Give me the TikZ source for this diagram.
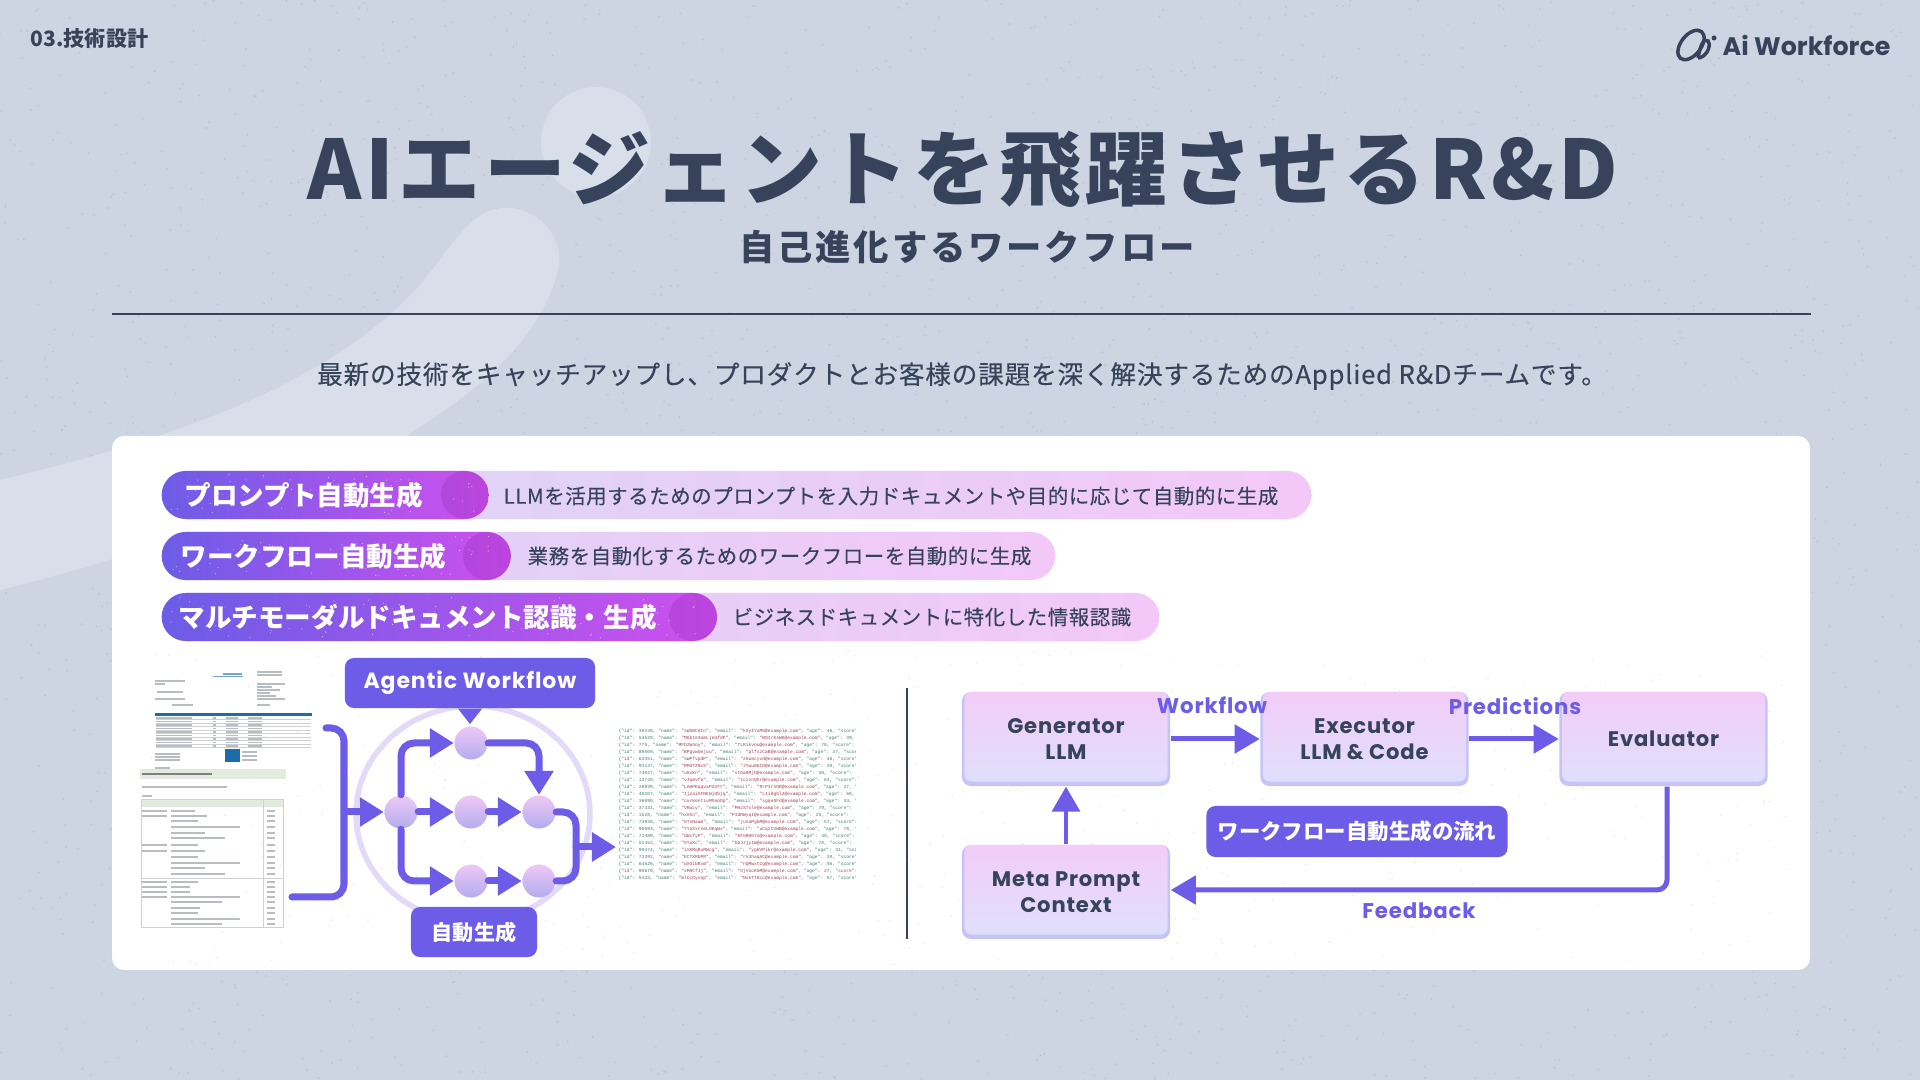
\documentclass[tikz,border=0pt]{standalone}
\usepackage{fontspec}
\setmainfont{Noto Sans CJK JP}
\newfontfamily\titlefont[LetterSpace=5]{Noto Sans CJK JP}
\newfontfamily\subfont[LetterSpace=8]{Noto Sans CJK JP}
\newfontfamily\descfont[LetterSpace=3,FakeBold=0.2]{Noto Sans CJK JP}
\newfontfamily\latinfont[LetterSpace=4]{Poppins}
\newfontfamily\logofont{Poppins}
\newfontfamily\jsonfont{Liberation Mono}
\usetikzlibrary{shapes.geometric, positioning, arrows.meta, calc}
\definecolor{pagebg}{HTML}{CDD5E3}
\definecolor{grain}{HTML}{B8C2D5}
\definecolor{swoosh}{HTML}{DCE1EC}
\definecolor{inkdark}{HTML}{36435A}
\definecolor{wfpurple}{HTML}{6C5CE7}
\definecolor{pillmag}{HTML}{CE50EE}
\definecolor{barleft}{HTML}{DAD6F6}
\definecolor{barright}{HTML}{F3C8F8}
\definecolor{boxtop}{HTML}{F3CCF8}
\definecolor{boxbot}{HTML}{DFE0FB}
\definecolor{boxrim}{HTML}{C4C4F6}
\definecolor{blobtop}{HTML}{EFC8F5}
\definecolor{blobbot}{HTML}{B2ACF0}
\definecolor{ringcol}{HTML}{E2DAF8}
\definecolor{jsonkey}{HTML}{3F7F70}
\definecolor{jsonval}{HTML}{A03F50}
\definecolor{invblue}{HTML}{1B6CA8}
\definecolor{invgreen}{HTML}{E3EADF}
\definecolor{invgray}{HTML}{B9BCC0}

\begin{document}
\begin{tikzpicture}[
  x=0.01cm, y=-0.01cm,
  >=Latex,
  %% Text styles
  headtxt/.style={text=inkdark, inner sep=0pt},
  pilltxt/.style={text=white, inner sep=0pt, anchor=west,
    font=\bfseries\fontsize{7.55}{10}\selectfont},
  desctxt/.style={text=inkdark, inner sep=0pt, anchor=west,
    font=\descfont\fontsize{5.8}{7}\selectfont},
  edgelbl/.style={text=wfpurple, inner sep=0pt,
    font=\latinfont\bfseries\fontsize{6.05}{7}\selectfont},
  %% Bars
  lightbar/.style={anchor=west, inner sep=0pt, minimum height=0.48cm,
    rounded corners=0.24cm, left color=barleft, right color=barright},
  darkpill/.style={anchor=west, inner sep=0pt, minimum height=0.48cm,
    rounded corners=0.24cm, left color=wfpurple, right color=pillmag},
  pillcap/.style={circle, inner sep=0pt, minimum size=0.48cm, anchor=east,
    fill=violet!70!wfpurple, fill opacity=0.2},
  %% Diagram nodes
  blob/.style={circle, inner sep=0pt, minimum size=0.33cm,
    top color=blobtop, bottom color=blobbot},
  tagbox/.style={inner sep=0pt, fill=wfpurple, rounded corners=0.09cm,
    text=white, font=\bfseries},
  stepbox/.style={inner sep=0pt, minimum width=2.08cm, minimum height=0.94cm,
    align=center, rounded corners=0.09cm, fill=boxrim, text=inkdark,
    font=\latinfont\bfseries\fontsize{6}{7.4}\selectfont,
    path picture={
      \shade[top color=boxtop, bottom color=boxbot, rounded corners=0.07cm]
        ([xshift=0.025cm]path picture bounding box.north west) rectangle
        ([xshift=-0.025cm, yshift=0.045cm]path picture bounding box.south east);}},
  %% Connectors
  flow/.style={draw=wfpurple, line width=0.07cm, line cap=round,
    rounded corners=0.13cm},
  arr/.style={flow, -{Triangle[length=0.24cm, width=0.28cm]}},
  arrthin/.style={draw=wfpurple, line width=0.05cm, rounded corners=0.1cm,
    -{Triangle[length=0.25cm, width=0.28cm]}},
  %% Thumbnails
  inkbar/.style={draw=invgray, line width=0.022cm},
  tablerule/.style={draw=invgray!70, line width=0.008cm},
  jsonline/.style={inner sep=0pt, anchor=west,
    font=\jsonfont\fontsize{1.31}{1.5}\selectfont},
]

%% =========================================================
%% PAGE — background and decoration
%% =========================================================
\useasboundingbox (0,0) rectangle (1920,1080);
\fill[pagebg] (0,0) rectangle (1920,1080);
\pgfmathsetseed{4242}
\foreach \i in {1,...,3000}
  \fill[grain] ({rnd*1920},{rnd*1080}) circle (0.9);
\fill[swoosh, fill opacity=0.85] (596,142) circle (55);
\fill[swoosh, fill opacity=0.85] (0,480) .. controls (170,440) and (330,385) .. (420,285)
  .. controls (450,250) and (470,208) .. (505,208)
  .. controls (545,208) and (565,245) .. (558,270)
  .. controls (540,340) and (480,390) .. (400,440)
  .. controls (280,510) and (120,560) .. (0,590) -- cycle;

%% HEADER
\node[headtxt, anchor=west, font=\bfseries\fontsize{6}{7}\selectfont] (section) at (30,39)
  {03.技術設計};
\node[headtxt, anchor=west, font=\logofont\bfseries\fontsize{7.2}{9}\selectfont] (logotxt) at (1722,45)
  {Ai Workforce};
\draw[inkdark, line width=0.035cm, rotate around={52:(1691,45)}] (1691,45) ellipse (17 and 10);
\draw[inkdark, line width=0.035cm] (1698,58) .. controls (1700,46) and (1704,37) .. (1708,41)
  .. controls (1712,47) and (1705,58) .. (1698,58);
\fill[inkdark] (1714,38) circle (2.5);

%% TITLE
\node[headtxt, font=\titlefont\bfseries\fontsize{23.3}{28}\selectfont] (title) at (963,170)
  {AIエージェントを飛躍させるR\&D};
\node[headtxt, font=\subfont\bfseries\fontsize{10.05}{12}\selectfont] (subtitle) at (967,247)
  {自己進化するワークフロー};
\draw[inkdark, line width=0.014cm] (112,314) -- (1811,314);
\node[headtxt, font=\descfont\fontsize{7.3}{9}\selectfont] (lead) at (962,376)
  {最新の技術をキャッチアップし、プロダクトとお客様の課題を深く解決するためのApplied R\&Dチームです。};

%% =========================================================
%% CARD
%% =========================================================
\fill[white, rounded corners=0.12cm] (112,436) rectangle (1810,970);
\foreach \i in {1,...,500}
  \fill[invgray!45] ({140+rnd*1650},{650+rnd*315}) circle (0.7);

%% ROW 1
\node[lightbar, minimum width=11.49cm] (bar1) at (161,495) {};
\node[darkpill, minimum width=3.27cm] (pill1) at (161,495) {};
\node[pillcap] (cap1) at (pill1.east) {};
\foreach \i in {1,...,60}
  \fill[white, fill opacity=0.55] ({170+rnd*305},{474+rnd*42}) circle (0.6);
\node[pilltxt] (name1) at (184,495) {プロンプト自動生成};
\node[desctxt] (desc1) at (503,496) {LLMを活用するためのプロンプトを入力ドキュメントや目的に応じて自動的に生成};

%% ROW 2
\node[lightbar, minimum width=8.93cm] (bar2) at (161,556) {};
\node[darkpill, minimum width=3.49cm] (pill2) at (161,556) {};
\node[pillcap] (cap2) at (pill2.east) {};
\foreach \i in {1,...,60}
  \fill[white, fill opacity=0.55] ({170+rnd*327},{535+rnd*42}) circle (0.6);
\node[pilltxt] (name2) at (180,556) {ワークフロー自動生成};
\node[desctxt] (desc2) at (527,556) {業務を自動化するためのワークフローを自動的に生成};

%% ROW 3
\node[lightbar, minimum width=9.97cm] (bar3) at (161,617) {};
\node[darkpill, minimum width=5.55cm] (pill3) at (161,617) {};
\node[pillcap] (cap3) at (pill3.east) {};
\foreach \i in {1,...,90}
  \fill[white, fill opacity=0.55] ({170+rnd*530},{596+rnd*42}) circle (0.6);
\node[pilltxt] (name3) at (178,617) {マルチモーダルドキュメント認識・生成};
\node[desctxt] (desc3) at (732,617) {ビジネスドキュメントに特化した情報認識};

%% =========================================================
%% LEFT THUMBNAILS
%% =========================================================
%% Upper document
\draw[inkbar, draw=invblue!60] (223,674) -- (242,674);
\draw[invblue!60, line width=0.01cm] (213,677) -- (243,677);
\foreach \xa/\xb/\yy in {155/185/681, 155/165/684, 157/183/692, 155/185/699, 172/193/705,
    257/282/672, 257/282/675, 257/285/684, 257/272/687, 257/280/690, 257/270/693,
    257/276/696, 257/285/699, 257/270/705, 155/170/768,
    155/180/754, 155/180/757, 155/180/760, 242/257/752, 242/257/756, 242/257/760}
  \draw[inkbar, line width=0.014cm] (\xa,\yy) -- (\xb,\yy);
\fill[invblue] (155,713) rectangle (312,716);
\foreach \yy in {719.5,723,...,748}
  \draw[tablerule] (156,\yy) -- (311,\yy);
\foreach \yy in {718,721.5,...,746}
  \draw[inkbar, line width=0.012cm] (156,\yy) -- (192,\yy) (213,\yy) -- (216,\yy)
    (226,\yy) -- (238,\yy) (248,\yy) -- (262,\yy);
\fill[invblue] (225,749) rectangle (240,762);

%% Lower document
\fill[invgreen] (140,769) rectangle (286,779);
\draw[inkbar, draw=gray] (142,774) -- (212,774);
\draw[inkbar, line width=0.016cm] (142,787) -- (227,787) (142,796) -- (152,796);
\fill[invgreen] (141,799) rectangle (283,807);
\draw[tablerule] (141,799) rectangle (283,927) (263,799) -- (263,927)
  (141,878) -- (283,878);
\foreach \yy/\xb in {811/195, 816/207, 821/198, 827/240, 833/205, 838/225, 845/198, 851/205,
    857/198, 863/240, 868/205, 874/225, 882/198, 887/190, 892/190, 897/240, 902/222,
    908/200, 913/198, 919/240, 924/222}
  \draw[inkbar, line width=0.016cm] (171,\yy) -- (\xb,\yy) (267,\yy) -- (275,\yy);
\foreach \yy in {811,816,845,851,882,887,892,897}
  \draw[inkbar, line width=0.016cm] (142,\yy) -- (167,\yy);

%% =========================================================
%% AGENTIC WORKFLOW GRAPH
%% =========================================================
\draw[ringcol, line width=0.055cm] (473,814) ellipse (117 and 108);

\node[blob] (topblob)   at (471,743) {};
\node[blob] (inblob)    at (401,812) {};
\node[blob] (midblob)   at (471,812) {};
\node[blob] (rightblob) at (539,812) {};
\node[blob] (lowblob)   at (471,881) {};
\node[blob] (endblob)   at (539,881) {};

\node[tagbox, minimum width=2.5cm, minimum height=0.5cm,
  font=\latinfont\bfseries\fontsize{6.25}{8}\selectfont] (agentic) at (470,683) {Agentic Workflow};
\fill[wfpurple] ([xshift=-0.12cm]agentic.south) -- ([xshift=0.12cm]agentic.south) -- (470,724) -- cycle;
\node[tagbox, minimum width=1.26cm, minimum height=0.5cm,
  font=\bfseries\fontsize{6}{8}\selectfont] (autogen) at (474,932) {自動生成};

%% Input bracket
\coordinate (brTop) at (326,728);
\coordinate (brMid) at (344,812);
\coordinate (brBot) at (292,897);
\draw[flow] (brTop) -| (brMid) |- (brBot);
\draw[arr] (brMid) -- (inblob.west);

%% Graph edges
\draw[arr] (inblob.north) |- (topblob.west);
\draw[arr] (topblob.east) -| (rightblob.north);
\draw[arr] (inblob.east) -- (midblob.west);
\draw[arr] (midblob.east) -- (rightblob.west);
\draw[arr] (inblob.south) |- (lowblob.west);
\draw[arr] (lowblob.east) -- (endblob.west);

%% Output bus
\coordinate (outBus) at (576,847);
\coordinate (outTip) at (616,847);
\draw[flow] (rightblob.east) -| (outBus) |- (endblob.east);
\draw[arr] (outBus) -- (outTip);

%% JSON listing
\begin{scope}
\clip (616,724) rectangle (855,885);
\foreach \idv/\namev/\mailv/\agev [count=\n from 0] in {
    39240/sWSNCAIn/kSyIYuMG/46, 54520/MGbte3omLjeUfdP/BOIrKsWK/39, 775/MFb2W4oy/TLRikvnu/78,
    89509/BPgvwOejou/plfszCaB/37, 63351/sWPfvpdP/zkwScyvd/46, 93137/RMdTZNx5/JYwu86tD/20,
    74027/uGvKn/vtOa9MjO/38, 13740/vJq6vfo/iczznQhr/63, 28939/LAHPEqqvaPZzFt/RrPIrnOR/27,
    48207/IjzaihFNEWjObjq/LIi0gGl2/68, 36090/curKentiuMhepOp/sgqeGFd/34, 37331/VKwLy/MHzSTsle/79,
    1528/hxXhn/PIdRWyqI/25, 74930/GTxNaam/junaPgbM/57, 90093/YYoXxrneLOKqWx/uCqzCVWB/78,
    72489/dWxfyP/EFoRHG7o/40, 52452/GYaXc/bbJJjyIW/78, 99474/iVKMqRuMWcg/ygHVPikr/31,
    73392/KCTXRbPR/rk3haqAC/20, 64526/wXOibRxm/nQMwxtCg/56, 90679/xMHCfJj/OjVocK5M/27,
    5433/mlCcGysop/NvkTTKcc/57}
  \node[jsonline] (json\n) at (618,731+7*\n)
    {\textcolor{jsonkey}{\{"id": \idv, "name": }\textcolor{jsonval}{"\namev"}\textcolor{jsonkey}{, "email": }\textcolor{jsonval}{"\mailv@example.com"}\textcolor{jsonkey}{, "age": \agev, "score":}};
\end{scope}

%% Divider
\draw[inkdark, line width=0.012cm] (907,688) -- (907,939);

%% =========================================================
%% RIGHT FLOW
%% =========================================================
\node[stepbox] (generator) at (1066,739) {Generator\\LLM};
\node[stepbox] (executor)  at (1364.5,739) {Executor\\LLM \& Code};
\node[stepbox] (evaluator) at (1663.5,739) {Evaluator};
\node[stepbox] (metaprompt) at (1066,892) {Meta Prompt\\Context};

\node[tagbox, minimum width=3.01cm, minimum height=0.51cm,
  font=\bfseries\fontsize{6.1}{8}\selectfont] (flowtag) at (1357,831.5) {ワークフロー自動生成の流れ};

\draw[arrthin] (generator.east) -- (executor.west);
\draw[arrthin] (executor.east) -- (evaluator.west);
\draw[arrthin, line width=0.035cm] (metaprompt.north) -- (generator.south);
\coordinate (fbCorner) at (1667,890);
\draw[arrthin] (evaluator.south -| fbCorner) |- (metaprompt.east |- fbCorner);

\node[edgelbl] (lblworkflow) at (1212,705) {Workflow};
\node[edgelbl] (lblpred)     at (1515,706) {Predictions};
\node[edgelbl] (lblfeed)     at (1419,911) {Feedback};

\end{tikzpicture}
\end{document}
